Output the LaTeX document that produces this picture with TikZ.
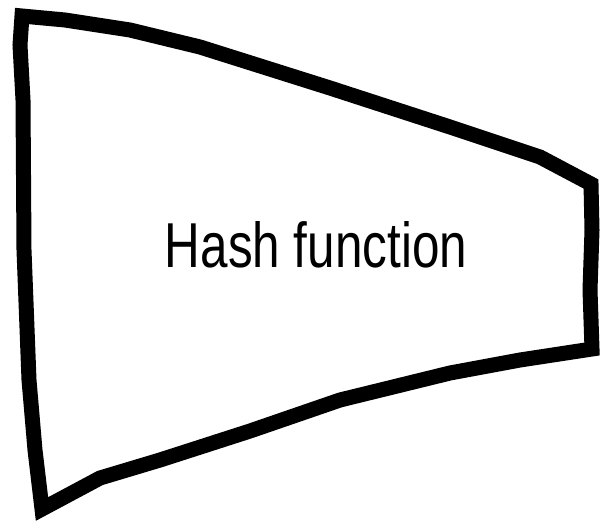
\documentclass[tikz,border=0pt]{standalone}
\usepackage{fontspec}
\setmainfont{Liberation Sans}
\tikzset{
  handline/.style={line width=15pt, line join=miter, miter limit=4, black},
  hashlabel/.style={inner sep=0pt, anchor=base}
}
\begin{document}
\begin{tikzpicture}[x=1pt, y=-1pt]
\useasboundingbox (0,0) rectangle (601,522);
\draw[handline]
  (22,16) -- (65,20) -- (130,30) -- (200,47) -- (330,88) -- (450,127) -- (540,157) -- (591,184)
  -- (592,230) -- (590,290) -- (592,349)
  -- (520,360) -- (450,373) -- (340,400) -- (250,431) -- (160,460) -- (100,478) -- (42,509)
  -- (35,450) -- (29,380) -- (24,250) -- (23,100) -- (20,45) -- cycle;
\node[hashlabel] (label) at (316,267) {\resizebox{302pt}{46pt}{Hash function}};
\end{tikzpicture}
\end{document}
